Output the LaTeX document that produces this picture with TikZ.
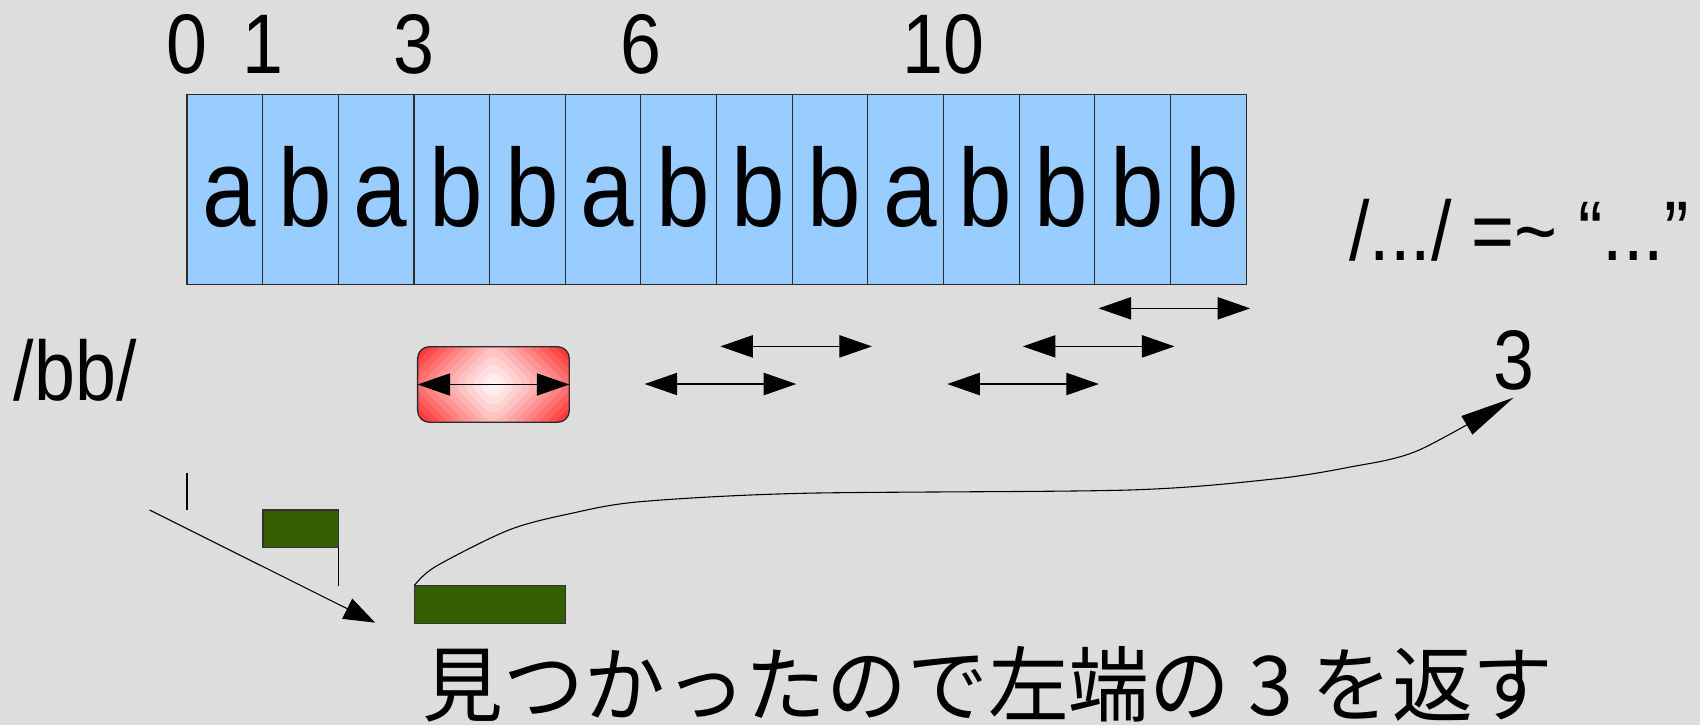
\documentclass[tikz,border=0pt]{standalone}
\usepackage{fontspec}
\setmainfont{Liberation Sans}[FakeStretch=0.87]
\newfontfamily\jpfont{Noto Sans CJK JP}[FakeStretch=0.98]
\usetikzlibrary{arrows.meta,calc}
\definecolor{bg}{HTML}{DDDDDD}
\definecolor{cellblue}{HTML}{99CCFF}
\definecolor{leafgreen}{HTML}{355E00}
\definecolor{edge}{HTML}{2B2B2B}
\begin{document}
\begin{tikzpicture}[x=0.5pt,y=-0.5pt,
  every node/.style={inner sep=0pt,outer sep=0pt},
  cellbox/.style={draw=edge,line width=0.5pt,fill=cellblue,
    minimum width=34.885pt,minimum height=87.5pt,anchor=north west},
  letter/.style={font=\fontsize{51}{60}\selectfont,anchor=base},
  lbl/.style={font=\fontsize{39}{45}\selectfont,anchor=base},
  jp/.style={font=\fontsize{38}{44}\selectfont\jpfont,anchor=base},
  greenbox/.style={draw=black!80,line width=0.5pt,fill=leafgreen},
  hitbox/.style={draw=edge,line width=0.6pt,rounded corners=5.4pt,
    minimum width=69.95pt,minimum height=34.85pt},
  thin line/.style={line width=0.5pt,draw=black},
  dbl/.style={line width=0.5pt,
    {Triangle[length=15pt,width=10.3pt]}-{Triangle[length=15pt,width=10.3pt]}},
  arr/.style={line width=0.5pt,-{Triangle[length=14.4pt,width=10.3pt]}},
  longarr/.style={line width=0.5pt,-{Triangle[length=25pt,width=9.8pt]}},
]
% canvas
\useasboundingbox (0,0) rectangle (1568,669);
\fill[bg] (0,0) rectangle (1568,669);

% the string cells
\foreach \ch [count=\i from 0] in {a,b,a,b,b,a,b,b,b,a,b,b,b,b} {
  \node[cellbox] (c\i) at ({172.5+69.77*\i},87) {};
  \node[letter] (l\i) at ({172.5+69.77*\i+34.9+4},209) {\ch};
}

% index labels
\foreach \k in {0,1,3,6,10}
  \node[lbl] (idx\k) at ({172.5+69.77*\k},67.5) {\k};

% pattern and notes
\node[lbl] (pat) at (69.4,369.4) {/bb/};
\node[lbl] (note) at (1401,240.5) {/.../ =\char`\~{} “...”};
\node[lbl,inner sep=3.5pt] (three) at (1396,359) {3};

% first match, highlighted with a square gradient
\node[hitbox,path picture={
  \foreach \s in {16,15,...,1} {
    \pgfmathsetmacro\rr{\s*7.6}
    \pgfmathsetmacro\pp{100*(\s/16)^1.25}
    \fill[red!\pp!white] ($(path picture bounding box.center)+(-\rr,0)$)
      -- ++(\rr,-\rr) -- ++(\rr,\rr) -- ++(-\rr,\rr) -- cycle;
  }}] (hit) at (455.15,354.65) {};
\draw[dbl] (hit.west) -- (hit.east);

% other matches of bb
\foreach \k/\y in {6/354.2,7/319.5,10/354.2,11/319.5,12/284.4} {
  \coordinate (m\k l) at ({172.5+69.77*\k+3.5},\y);
  \coordinate (m\k r) at ({172.5+69.77*\k+143.3},\y);
  \draw[dbl] (m\k l) -- (m\k r);
}

% search steps below
\coordinate (v1a) at (172.5,436);
\coordinate (v1b) at (172.5,470.4);
\draw[thin line] (v1a) -- (v1b);

\node[greenbox,minimum width=34.75pt,minimum height=17.4pt] (small) at (277.35,487.8) {};
\node[greenbox,minimum width=69.8pt,minimum height=17.4pt] (big) at (451.9,557.6) {};

\coordinate (v2b) at (312.1,540.2);
\draw[thin line] (small.south east) -- (v2b);

\coordinate (dstart) at (138,470.4);
\coordinate (dend) at (346,574.3);
\draw[arr] (dstart) -- (dend);

\draw[longarr] plot[smooth,tension=0.5] coordinates {
  (big.north west) (401.5,522.7) (469.4,488.8) (527,473.5) (590.9,462.7)
  (740,455) (1040,452) (1173,442) (1244,431) (1307.5,415.7) (three.south)};

% conclusion
\node[jp] (result) at (911.5,659.5) {見つかったので左端の 3 を返す};
\end{tikzpicture}
\end{document}
